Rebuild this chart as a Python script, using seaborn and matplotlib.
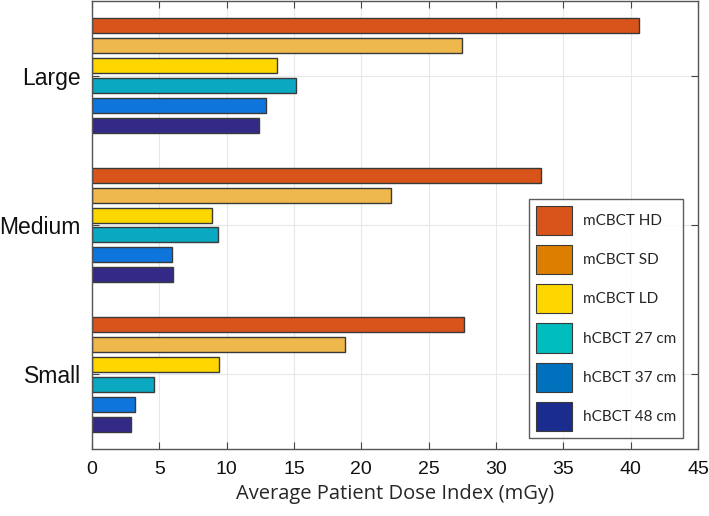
import matplotlib
matplotlib.use("Agg")
import matplotlib.pyplot as plt
from matplotlib.patches import Patch
import seaborn as sns
import pandas as pd

sizes = ["Large", "Medium", "Small"]
protocols = ["mCBCT HD", "mCBCT SD", "mCBCT LD", "hCBCT 27 cm", "hCBCT 37 cm", "hCBCT 48 cm"]
large = [40.6, 27.5, 13.75, 15.15, 12.9, 12.4]
medium = [33.35, 22.2, 8.9, 9.35, 5.95, 6.0]
small = [27.6, 18.8, 9.4, 4.6, 3.2, 2.9]
x_ticks = [0, 5, 10, 15, 20, 25, 30, 35, 40, 45]
x_label = "Average Patient Dose Index (mGy)"

bar_colors = ["#D9541A", "#EFB84C", "#FFD700", "#0AA8C1", "#0E75DC", "#332A87"]
legend_colors = ["#D9541A", "#DC7E00", "#FFD700", "#00BDBD", "#0072BD", "#1A2C8E"]

rows = []
for s, vals in zip(sizes, [large, medium, small]):
    for p, v in zip(protocols, vals):
        rows.append({"size": s, "protocol": p, "dose": v})
df = pd.DataFrame(rows)

sns.set_style("white")
plt.rcParams['font.family'] = ['Liberation Sans', 'DejaVu Sans']

fig = plt.figure(figsize=(7.09, 5.16), dpi=100)
ax = fig.add_axes([92/709, 1 - 449/516, (698-92)/709, (449-1)/516])

sns.barplot(data=df, y="size", x="dose", hue="protocol", order=sizes,
            hue_order=protocols, palette=bar_colors, orient="h", ax=ax,
            width=0.8, gap=0.25, edgecolor="#3a3a3a", linewidth=1.0,
            saturation=1, legend=False, errorbar=None)

ax.set_xlim(0, 45)
ax.set_ylim(2.5, -0.5)
ax.set_xticks(x_ticks)
ax.set_xticklabels([str(t) for t in x_ticks])
ax.set_ylabel("")
ax.set_xlabel(x_label, fontsize=14.5, family=["Open Sans", "DejaVu Sans"], labelpad=4)
ax.tick_params(axis="both", direction="in", length=5, width=0.8, color="#444444",
               top=True, right=True, bottom=True, left=True,
               labelcolor="#111111")
ax.tick_params(axis="x", labelsize=14, pad=9)
ax.tick_params(axis="y", labelsize=16.5, pad=8)
ax.grid(True, color="#e8e8e8", linewidth=0.8)
ax.set_axisbelow(True)
for sp in ax.spines.values():
    sp.set_color("#555555")
    sp.set_linewidth(1.0)
    sp.set_visible(True)

handles = [Patch(facecolor=c, edgecolor="#3a3a3a", linewidth=0.8, label=p)
           for c, p in zip(legend_colors, protocols)]
leg = ax.legend(handles=handles, loc="lower right",
                frameon=True, fancybox=False,
                prop={"family": ["Lato", "DejaVu Sans"], "size": 11},
                handlelength=2.35, handleheight=2.55, labelspacing=0.67,
                borderpad=0.45, handletextpad=0.7, borderaxespad=0)
leg.get_frame().set_edgecolor("#333333")
leg.get_frame().set_linewidth(1.0)
leg.set_bbox_to_anchor((683/709, 1 - 438/516), transform=fig.transFigure)

fig.savefig("out.png", dpi=100)
